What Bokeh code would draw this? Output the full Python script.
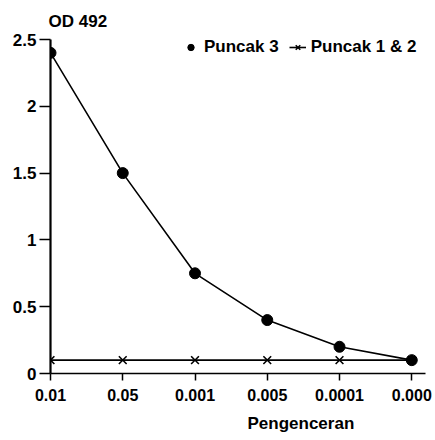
from bokeh.plotting import figure
from bokeh.models import Range1d, FixedTicker, Title, Legend, LegendItem
from bokeh.embed import file_html
from bokeh.resources import INLINE

categories = ["0.01", "0.05", "0.001", "0.005", "0.0001", "0.000"]
puncak3 = [2.4, 1.5, 0.75, 0.4, 0.2, 0.1]
puncak12 = [0.1, 0.1, 0.1, 0.1, 0.1, 0.1]
y_ticks = [0, 0.5, 1, 1.5, 2, 2.5]
y_tick_labels = ["0", "0.5", "1", "1.5", "2", "2.5"]

xs = list(range(len(categories)))
FONT = "Liberation Sans"

p = figure(width=435, height=440, output_backend="svg", toolbar_location=None,
           x_range=Range1d(0, 5.19), y_range=Range1d(0, 2.5),
           min_border_left=50, min_border_right=10, min_border_top=37, min_border_bottom=67)
p.outline_line_color = None
p.grid.visible = False
p.background_fill_color = "white"

p.title.text = "OD 492"
p.title.align = "left"
p.title.text_font = FONT
p.title.text_font_style = "bold"
p.title.text_font_size = "17px"
p.title.text_color = "black"
p.title.offset = -2
p.title.standoff = 18

l1 = p.line(xs, puncak3, line_color="black", line_width=1.6)
s1 = p.scatter(xs, puncak3, marker="circle", size=11, fill_color="black", line_color="black")
l2 = p.line(xs, puncak12, line_color="black", line_width=1.6)
s2 = p.scatter(xs, puncak12, marker="x", size=11, line_color="black", line_width=1.6)

legend = Legend(items=[LegendItem(label="Puncak 3", renderers=[s1]),
                       LegendItem(label="Puncak 1 & 2", renderers=[l2, s2])],
                orientation="horizontal", location=(132, 316),
                label_text_font=FONT, label_text_font_style="bold", label_text_font_size="17px",
                label_text_color="black",
                glyph_width=17, glyph_height=16, label_height=20, label_standoff=5,
                spacing=10, padding=0, margin=0,
                border_line_color=None, background_fill_alpha=0)
p.add_layout(legend, "center")

p.xaxis.ticker = FixedTicker(ticks=xs)
p.xaxis.major_label_overrides = {i: c for i, c in zip(xs, categories)}
p.yaxis.ticker = FixedTicker(ticks=y_ticks)
p.yaxis.major_label_overrides = {t: l for t, l in zip(y_ticks, y_tick_labels)}

for ax in (p.xaxis, p.yaxis):
    ax.axis_line_color = "black"
    ax.major_tick_line_color = "black"
    ax.minor_tick_line_color = None
    ax.major_tick_in = 0
    ax.major_label_text_font = FONT
    ax.major_label_text_font_style = "bold"
    ax.major_label_text_font_size = "16px"
    ax.major_label_text_color = "black"
p.yaxis.major_label_text_font_size = "17px"
p.yaxis.axis_line_width = 2.2
p.xaxis.axis_line_width = 1.6
p.xaxis.major_tick_line_width = 1.5
p.yaxis.major_tick_line_width = 1.5
p.xaxis.major_tick_out = 7
p.yaxis.major_tick_out = 11
p.xaxis.major_label_standoff = 8
p.yaxis.major_label_standoff = 3

xlabel = Title(text="Pengenceran", align="left", offset=197, text_font=FONT,
               text_font_style="bold", text_font_size="17px", text_color="black",
               standoff=16)
p.add_layout(xlabel, "below")

open("out.html", "w").write(file_html(p, INLINE))
